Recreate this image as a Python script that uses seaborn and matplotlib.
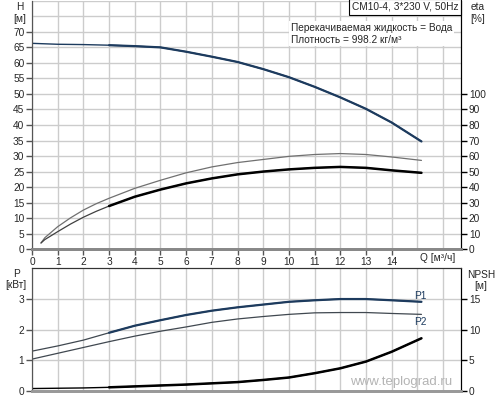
import numpy as np
import pandas as pd
import seaborn as sns
import matplotlib
matplotlib.use("Agg")
import matplotlib.pyplot as plt

# values
q = [0, 1, 2, 3, 4, 5, 6, 7, 8, 9, 10, 11, 12, 13, 14, 15.16]
head = [66.3, 66.0, 65.9, 65.7, 65.4, 65.0, 63.6, 62.0, 60.3, 58.0, 55.4, 52.3, 48.9, 45.2, 40.8, 34.7]
p1 = [1.30, 1.47, 1.66, 1.90, 2.13, 2.31, 2.48, 2.62, 2.73, 2.82, 2.91, 2.96, 3.0, 3.0, 2.96, 2.91]
p2 = [1.04, 1.23, 1.42, 1.61, 1.79, 1.95, 2.09, 2.24, 2.35, 2.43, 2.50, 2.55, 2.56, 2.56, 2.53, 2.50]
npsh = [0.4, 0.45, 0.5, 0.6, 0.75, 0.9, 1.05, 1.25, 1.45, 1.8, 2.2, 2.9, 3.7, 4.8, 6.4, 8.6]

q_eta = [0.35, 0.5, 1, 1.5, 2, 2.5, 3, 4, 5, 6, 7, 8, 9, 10, 11, 12, 13, 14, 15.16]
eta_pump = [4, 7.4, 14.5, 20.2, 25.2, 29.3, 32.8, 39.2, 44.4, 49.2, 53, 55.8, 57.8, 59.8, 61, 61.6, 61, 59.4, 57.2]
eta_total = [4, 6.2, 11.3, 16.2, 20.6, 24.4, 27.8, 33.8, 38.4, 42.4, 45.6, 48.2, 50, 51.4, 52.4, 53, 52.4, 50.8, 49.2]

q_ticks = list(range(0, 15))
h_ticks = list(range(0, 75, 5))
eta_ticks = list(range(0, 110, 10))
p_ticks = [0, 1, 2, 3]
npsh_ticks = [0, 5, 10, 15]

df = pd.DataFrame({"q": q, "head": head, "p1": p1, "p2": p2, "npsh": npsh})
de = pd.DataFrame({"q": q_eta, "pump": eta_pump, "total": eta_total})
op = df[df.q >= 3]
ope = de[de.q >= 3]

sns.set_style("white")
plt.rcParams["font.family"] = ["Liberation Sans", "DejaVu Sans"]
fs = 7.3
plt.rcParams["font.size"] = fs

navy = "#1d3b5e"
grid_c = "#cccccc"
xmax = 16.68

fig = plt.figure(figsize=(5, 4), dpi=100)
ax = fig.add_axes([0.064, 0.377, 0.857, 0.621])
ax2 = fig.add_axes([0.064, 0.0225, 0.857, 0.3065])

# ---- top: head and efficiency
for g in range(0, 17):
    ax.axvline(g, color=grid_c, lw=1, zorder=0)
for g in range(0, 85, 5):
    ax.axhline(g, color=grid_c, lw=1, zorder=0)

sns.lineplot(data=df, x="q", y="head", ax=ax, color=navy, lw=1.0, estimator=None)
sns.lineplot(data=op, x="q", y="head", ax=ax, color=navy, lw=1.6, estimator=None)

axe = ax.twinx()
sns.lineplot(data=de, x="q", y="pump", ax=axe, color="#707070", lw=0.9, estimator=None)
sns.lineplot(data=de, x="q", y="total", ax=axe, color="#404040", lw=0.9, estimator=None)
sns.lineplot(data=ope, x="q", y="total", ax=axe, color="black", lw=1.8, estimator=None)

ax.set_xlim(0, xmax)
ax.set_ylim(0, 80)
axe.set_ylim(0, 160)
ax.set_xticks(q_ticks)
ax.set_xticklabels([str(t) for t in q_ticks])
ax.set_yticks(h_ticks)
axe.set_yticks(eta_ticks)
ax.set_xlabel("")
ax.set_ylabel("")
axe.set_ylabel("")

ax.tick_params(axis="both", length=4, width=1, color="#555555", pad=1.5, labelsize=fs, direction="out",
               left=True, bottom=True)
axe.tick_params(axis="y", length=4, width=1, color="black", pad=2, labelsize=fs, direction="out", right=True)

for a in (ax, axe):
    a.spines["top"].set_visible(False)
    a.spines["left"].set_color("#555555")
    a.spines["bottom"].set_color("#888888")
    a.spines["bottom"].set_linewidth(2)
    a.spines["right"].set_color("black")

fig.text(0.04, 0.982, "H", ha="center", va="center", fontsize=fs)
fig.text(0.04, 0.952, "[м]", ha="center", va="center", fontsize=fs)
fig.text(0.956, 0.982, "eta", ha="center", va="center", fontsize=fs)
fig.text(0.956, 0.952, "[%]", ha="center", va="center", fontsize=fs)
fig.text(0.876, 0.355, "Q [м³/ч]", ha="center", va="center", fontsize=fs)

ax.text(0.995, 0.997, "CM10-4, 3*230 V, 50Hz", transform=ax.transAxes, ha="right", va="top",
        fontsize=fs, bbox=dict(boxstyle="square,pad=0.3", fc="white", ec="black", lw=0.8))
ax.text(0.604, 0.912, "Перекачиваемая жидкость = Вода\nПлотность = 998.2 кг/м³",
        transform=ax.transAxes, ha="left", va="top", fontsize=fs, linespacing=1.3,
        bbox=dict(fc="white", ec="none", pad=1))

# ---- bottom: power and NPSH
for g in range(0, 17):
    ax2.axvline(g, color=grid_c, lw=1, zorder=0)
for g in range(0, 4):
    ax2.axhline(g, color=grid_c, lw=1, zorder=0)

sns.lineplot(data=df, x="q", y="p1", ax=ax2, color="#404850", lw=0.9, estimator=None)
sns.lineplot(data=op, x="q", y="p1", ax=ax2, color=navy, lw=1.6, estimator=None)
sns.lineplot(data=df, x="q", y="p2", ax=ax2, color="#404850", lw=0.9, estimator=None)

axn = ax2.twinx()
sns.lineplot(data=df, x="q", y="npsh", ax=axn, color="black", lw=1.0, estimator=None)
sns.lineplot(data=op, x="q", y="npsh", ax=axn, color="black", lw=1.8, estimator=None)

ax2.set_xlim(0, xmax)
ax2.set_ylim(0, 4)
axn.set_ylim(0, 20)
ax2.set_xticks([])
ax2.set_yticks(p_ticks)
axn.set_yticks(npsh_ticks)
ax2.set_xlabel("")
ax2.set_ylabel("")
axn.set_ylabel("")
ax2.tick_params(axis="y", length=4, width=1, color="#555555", pad=1.5, labelsize=fs, left=True)
axn.tick_params(axis="y", length=4, width=1, color="black", pad=2, labelsize=fs, right=True)
for a in (ax2, axn):
    a.spines["top"].set_color("#333333")
    a.spines["left"].set_color("#555555")
    a.spines["bottom"].set_color("#999999")
    a.spines["bottom"].set_linewidth(2)
    a.spines["right"].set_color("black")

ax2.text(15.1, 3.1, "P1", color=navy, ha="center", va="center", fontsize=fs)
ax2.text(15.1, 2.26, "P2", color=navy, ha="center", va="center", fontsize=fs)
ax2.text(0.861, 0.073, "www.teplograd.ru", transform=ax2.transAxes, ha="center", va="center",
         fontsize=9.5, color="#b4b4b4")

fig.text(0.032, 0.315, "P", ha="center", va="center", fontsize=fs)
fig.text(0.032, 0.287, "[кВт]", ha="center", va="center", fontsize=fs)
fig.text(0.962, 0.312, "NPSH", ha="center", va="center", fontsize=fs)
fig.text(0.962, 0.285, "[м]", ha="center", va="center", fontsize=fs)

fig.savefig("out.png", dpi=100)
